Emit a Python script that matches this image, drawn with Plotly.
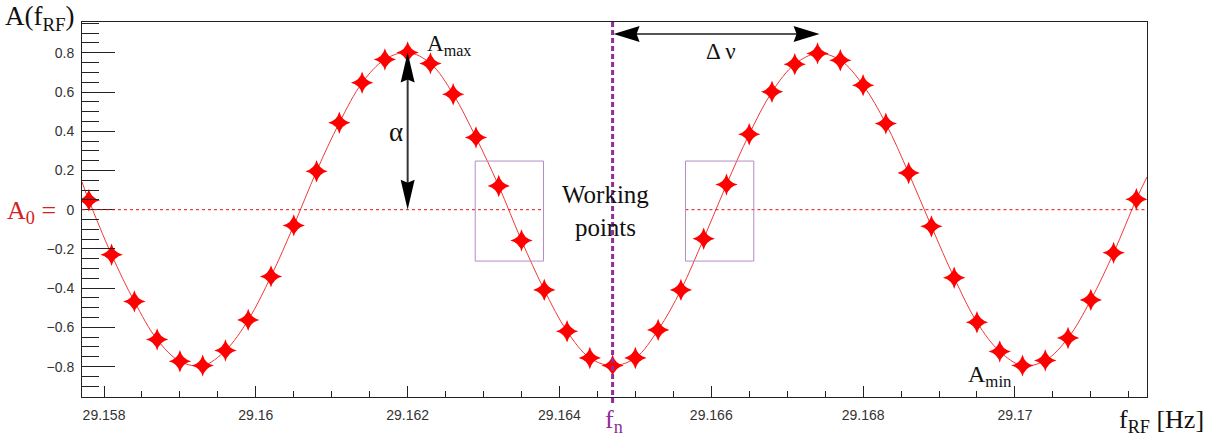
import plotly.graph_objects as go

# Measured response A(f_RF) of the RF scan
f_rf = [29.1578, 29.1581, 29.1584, 29.1587, 29.1590, 29.1593, 29.1596, 29.1599,
        29.1602, 29.1605, 29.1608, 29.1611, 29.1614, 29.1617, 29.1620, 29.1623,
        29.1626, 29.1629, 29.1632, 29.1635, 29.1638, 29.1641, 29.1644, 29.1647,
        29.1650, 29.1653, 29.1656, 29.1659, 29.1662, 29.1665, 29.1668, 29.1671,
        29.1674, 29.1677, 29.1680, 29.1683, 29.1686, 29.1689, 29.1692, 29.1695,
        29.1698, 29.1701, 29.1704, 29.1707, 29.1710, 29.1713, 29.1716]
amplitude = [0.048, -0.230, -0.468, -0.662, -0.773, -0.795, -0.718, -0.562,
             -0.340, -0.080, 0.196, 0.443, 0.647, 0.766, 0.802, 0.746,
             0.589, 0.368, 0.121, -0.157, -0.409, -0.620, -0.756, -0.795,
             -0.756, -0.613, -0.409, -0.148, 0.128, 0.385, 0.601, 0.742,
             0.797, 0.762, 0.635, 0.439, 0.187, -0.085, -0.347, -0.574,
             -0.723, -0.795, -0.769, -0.654, -0.460, -0.220, 0.053]

# Fitted curve continues to the frame edges
fit_edge_f = [29.15771, 29.17174]
fit_edge_a = [0.141, 0.167]

# Axis ranges and ticks
x_range = [29.15771, 29.17174]
y_range = [-0.955, 0.957]
x_tick_vals = [29.158, 29.160, 29.162, 29.164, 29.166, 29.168, 29.170]
x_tick_text = ["29.158", "29.16", "29.162", "29.164", "29.166", "29.168", "29.17"]
y_tick_vals = [-0.8, -0.6, -0.4, -0.2, 0.0, 0.2, 0.4, 0.6, 0.8]
y_tick_text = ["\u22120.8", "\u22120.6", "\u22120.4", "\u22120.2", "0",
               "0.2", "0.4", "0.6", "0.8"]

# Reference quantities
f_n = 29.1647
a_zero = 0.0
f_peak_left = 29.1620
a_max = 0.802
f_peak_right = 29.1674
delta_nu_level = 0.896
working_windows_f = [(29.16289, 29.16379), (29.16566, 29.16656)]
working_window_a = (-0.262, 0.248)

W, H = 1215, 440
L, R, T, B = 82, 1147, 22, 397

SERIF = "Liberation Serif, Times New Roman, serif"
SANS = "Liberation Sans, Arial, Helvetica, sans-serif"


def xp(px):
    return (px - L) / (R - L)


def yp(py):
    return (B - py) / (B - T)


def x_pix(f):
    return L + (f - x_range[0]) / (x_range[1] - x_range[0]) * (R - L)


def y_pix(a):
    return B - (a - y_range[0]) / (y_range[1] - y_range[0]) * (B - T)


def head_path(tip, direction, length, half, notch):
    tx, ty = tip
    dx, dy = direction
    nx, ny = -dy, dx
    bx, by = tx - dx * length, ty - dy * length
    mx, my = tx - dx * (length - notch), ty - dy * (length - notch)
    pts = [(tx, ty), (bx + nx * half, by + ny * half), (mx, my),
           (bx - nx * half, by - ny * half)]
    d = "M " + " L ".join(f"{xp(px):.5f},{yp(py):.5f}" for px, py in pts) + " Z"
    return d


fig = go.Figure()

# Fit curve through the measurements
curve_f = [fit_edge_f[0]] + f_rf + [fit_edge_f[1]]
curve_a = [fit_edge_a[0]] + amplitude + [fit_edge_a[1]]
fig.add_trace(go.Scatter(
    x=curve_f, y=curve_a, mode="lines",
    line=dict(color="#f03a3a", width=1, shape="spline", smoothing=1.0),
    hoverinfo="skip", showlegend=False))

fig.add_trace(go.Scatter(
    x=f_rf, y=amplitude, mode="markers",
    marker=dict(symbol="star-diamond", size=16, color="#ff0000",
                line=dict(width=0)),
    showlegend=False))

shapes = []
# A0 = 0 reference line, interrupted around the label
for x0, x1 in [(x_range[0], working_windows_f[0][1]),
               (working_windows_f[1][0], x_range[1])]:
    shapes.append(dict(type="line", xref="x", yref="y", x0=x0, x1=x1,
                       y0=a_zero, y1=a_zero,
                       line=dict(color="#e01010", width=1, dash="3px,3px")))

# Working point windows
for f0, f1 in working_windows_f:
    shapes.append(dict(type="rect", xref="x", yref="y", x0=f0, x1=f1,
                       y0=working_window_a[0], y1=working_window_a[1],
                       line=dict(color="#b48cc4", width=1),
                       fillcolor="rgba(0,0,0,0)"))

# f_n marker line
shapes.append(dict(type="line", xref="x", yref="paper", x0=f_n, x1=f_n,
                   y0=yp(403), y1=1.0,
                   line=dict(color="#8e2f96", width=3, dash="5px,3px")))

# alpha arrow
ax = x_pix(f_peak_left)
top_tip = (ax, y_pix(a_max))
bot_tip = (ax, y_pix(a_zero))
shapes.append(dict(type="line", xref="paper", yref="paper",
                   x0=xp(ax), x1=xp(ax), y0=yp(top_tip[1] + 20), y1=yp(bot_tip[1] - 20),
                   line=dict(color="#333333", width=2)))
shapes.append(dict(type="path", xref="paper", yref="paper",
                   path=head_path(top_tip, (0, -1), 30, 7, 3),
                   fillcolor="#000000", line=dict(width=0)))
shapes.append(dict(type="path", xref="paper", yref="paper",
                   path=head_path(bot_tip, (0, 1), 30, 7, 3),
                   fillcolor="#000000", line=dict(width=0)))

# Delta nu arrow
dy_pix = y_pix(delta_nu_level)
left_tip = (x_pix(f_n) + 1, dy_pix)
right_tip = (x_pix(f_peak_right) + 2, dy_pix)
shapes.append(dict(type="line", xref="paper", yref="paper",
                   x0=xp(left_tip[0] + 18), x1=xp(right_tip[0] - 18),
                   y0=yp(dy_pix), y1=yp(dy_pix),
                   line=dict(color="#555555", width=2)))
shapes.append(dict(type="path", xref="paper", yref="paper",
                   path=head_path(left_tip, (-1, 0), 26, 8, 3),
                   fillcolor="#000000", line=dict(width=0)))
shapes.append(dict(type="path", xref="paper", yref="paper",
                   path=head_path(right_tip, (1, 0), 26, 8, 3),
                   fillcolor="#000000", line=dict(width=0)))


def label(text, px, py, size, color="#111111", xanchor="center", yanchor="middle"):
    return dict(text=text, xref="paper", yref="paper", x=xp(px), y=yp(py),
                xanchor=xanchor, yanchor=yanchor, showarrow=False,
                font=dict(family=SERIF, size=size, color=color))


annotations = [
    label("A(f<sub>RF</sub>)", 3, 18, 27, xanchor="left"),
    label("A<sub>0</sub> =", 58, 212, 26, color="#d42020", xanchor="right"),
    label("f<sub>RF</sub> [Hz]", 1206, 421, 26, xanchor="right"),
    label("f<sub>n</sub>", 614, 421, 26, color="#8e2f96"),
    label("A<sub>max</sub>", 425, 45, 23, xanchor="left"),
    label("\u03b1", 396, 132, 27),
    label("Working<br>points", 605, 211, 25),
    label("A<sub>min</sub>", 966, 376, 24, xanchor="left"),
    label("\u0394 \u03bd", 721, 52, 23),
]

fig.update_layout(
    width=W, height=H,
    margin=dict(l=L, r=W - R, t=T, b=H - B, pad=0),
    paper_bgcolor="white", plot_bgcolor="white",
    shapes=shapes, annotations=annotations,
    showlegend=False,
    xaxis=dict(
        range=x_range, tickmode="array", tickvals=x_tick_vals, ticktext=x_tick_text,
        ticks="inside", ticklen=11, tickwidth=1, tickcolor="#222222",
        minor=dict(dtick=0.0005, tick0=29.158, ticks="inside", ticklen=6,
                   tickcolor="#222222", showgrid=False),
        showline=True, linecolor="#222222", linewidth=1, mirror=True,
        showgrid=False, zeroline=False,
        tickfont=dict(family=SANS, size=14, color="#333333"),
        ticklabelstandoff=5,
    ),
    yaxis=dict(
        range=y_range, tickmode="array", tickvals=y_tick_vals, ticktext=y_tick_text,
        ticks="inside", ticklen=33, tickwidth=1, tickcolor="#222222",
        minor=dict(dtick=0.05, tick0=0, ticks="inside", ticklen=17,
                   tickcolor="#222222", showgrid=False),
        showline=True, linecolor="#222222", linewidth=1, mirror=True,
        showgrid=False, zeroline=False,
        tickfont=dict(family=SANS, size=14, color="#333333"),
        ticklabelstandoff=4,
    ),
)

fig.write_html("out.html")
